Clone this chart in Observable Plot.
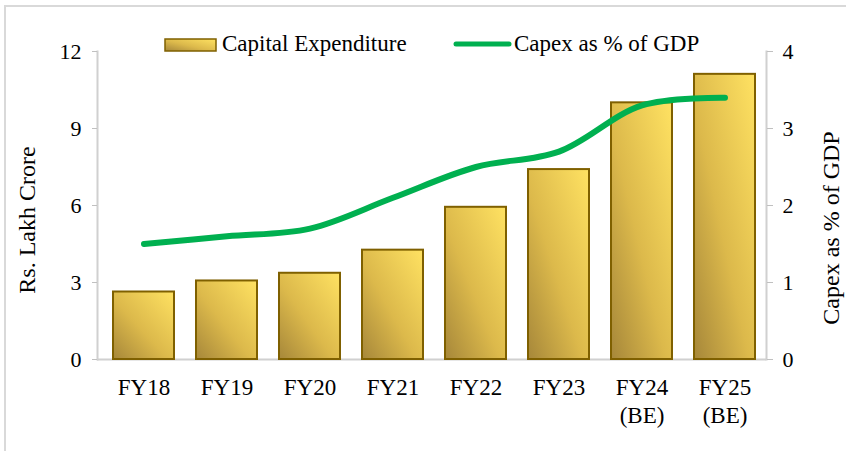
<!DOCTYPE html>
<html><head><meta charset="utf-8">
<script src="https://cdn.jsdelivr.net/npm/d3@7"></script>
<script src="https://cdn.jsdelivr.net/npm/@observablehq/plot@0.6"></script>
<style>
body{margin:0;overflow:hidden;background:#fff;}
#wrap{position:relative;width:846px;height:451px;overflow:hidden;}
#border{position:absolute;left:4px;top:5px;width:900px;height:500px;border-top:2px solid #d9d9d9;border-left:2px solid #d9d9d9;}
#wrap svg{position:absolute;left:0;top:0;}
svg text{font-family:"Liberation Serif","Times New Roman",serif;}
</style></head><body><div id="wrap"><div id="border"></div></div>
<script>
const categories = ["FY18","FY19","FY20","FY21","FY22","FY23","FY24\n(BE)","FY25\n(BE)"];
const capex = [2.63,3.06,3.36,4.26,5.93,7.40,10.0,11.11];
const capexPctGdp = [1.5,1.6,1.7,2.1,2.5,2.7,3.3,3.4];
const leftTicks = [0,3,6,9,12];
const rightTicks = [0,1,2,3,4];
const seriesNames = ["Capital Expenditure","Capex as % of GDP"];
const axisTitles = ["Rs. Lakh Crore","Capex as % of GDP"];
const ratio = 12/4;

const data = categories.map((c,i)=>({cat:c, capex:capex[i], pct:capexPctGdp[i]}));

const chart = Plot.plot({
  width:846, height:451, marginTop:51, marginBottom:92, marginLeft:97, marginRight:80,
  style:{fontFamily:"Liberation Serif, serif", fontSize:"22px", color:"#000", background:"transparent", overflow:"visible"},
  x:{domain:categories, paddingInner:0.265, paddingOuter:0.1626, align:0.6, label:null},
  y:{domain:[0,12], label:null},
  marks:[
    Plot.ruleY([0],{stroke:"#d0d0d0", strokeWidth:2}),
    Plot.barY(data,{x:"cat", y:"capex", fill:"url(#goldGrad)", stroke:"#7f6000", strokeWidth:2}),
    Plot.frame({anchor:"left", stroke:"#d0d0d0", strokeWidth:2}),
    Plot.frame({anchor:"right", stroke:"#d0d0d0", strokeWidth:2}),
    Plot.axisY(leftTicks,{anchor:"left", tickSize:5, tickPadding:11, stroke:"#c0c0c0", fill:"#000", label:null, fontSize:22}),
    Plot.axisY(rightTicks.map(d=>d*ratio),{anchor:"right", tickSize:6, tickPadding:10, stroke:"#c0c0c0", fill:"#000", tickFormat:d=>d/ratio, label:null, fontSize:22}),
    Plot.axisX({tickSize:0, tickPadding:16, lineHeight:1.2, fill:"#000", label:null, fontSize:23}),
    Plot.line(data,{x:"cat", y:d=>d.pct*ratio, stroke:"#00b050", strokeWidth:6, curve:"catmull-rom", strokeLinecap:"round"})
  ]
});

const svg = d3.select(chart);
svg.insert("defs",":first-child").html(`
  <linearGradient id="goldGrad" x1="0" y1="1" x2="1" y2="0">
    <stop offset="0" stop-color="#a6873a"/>
    <stop offset="0.45" stop-color="#dcb94b"/>
    <stop offset="1" stop-color="#ffe262"/>
  </linearGradient>`);

// legend
const lg = svg.append("g").attr("text-anchor","start");
lg.append("rect").attr("x",165).attr("y",39).attr("width",51).attr("height",12)
  .attr("fill","url(#goldGrad)").attr("stroke","#7f6000").attr("stroke-width",1.5);
lg.append("text").attr("x",222).attr("y",51).attr("font-size",23).text(seriesNames[0]);
lg.append("line").attr("x1",456).attr("x2",509).attr("y1",44).attr("y2",44)
  .attr("stroke","#00b050").attr("stroke-width",5).attr("stroke-linecap","round");
lg.append("text").attr("x",514).attr("y",51).attr("font-size",23).text(seriesNames[1]);

// axis titles
svg.append("text").attr("transform","translate(35,220) rotate(-90)").attr("text-anchor","middle")
  .attr("font-size",24).text(axisTitles[0]);
svg.append("text").attr("transform","translate(839,228) rotate(-90)").attr("text-anchor","middle")
  .attr("font-size",24).text(axisTitles[1]);

document.getElementById("wrap").appendChild(chart);
</script></body></html>
